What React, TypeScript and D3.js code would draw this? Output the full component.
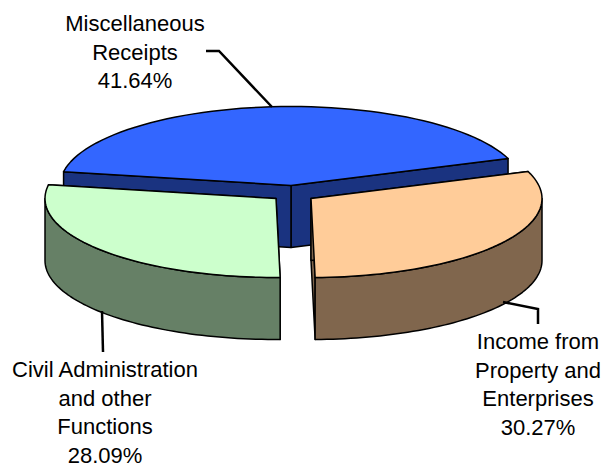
import React from "react";
import * as d3 from "d3";

const categories = ["Income from Property and Enterprises", "Civil Administration and other Functions", "Miscellaneous Receipts"];
const values = [30.27, 28.09, 41.64];
const topColors = ["#FFCC99", "#CCFFCC", "#3366FF"];
const sideColors = ["#80664D", "#668066", "#1A3380"];
const labelLines = [
  ["Income from", "Property and", "Enterprises", "30.27%"],
  ["Civil Administration", "and other", "Functions", "28.09%"],
  ["Miscellaneous", "Receipts", "41.64%"],
];
const centers: [number, number][] = [[311, 198.5], [276, 198.5], [291, 185.5]];
const labelAnchors: [number, number][] = [[538, 349], [105, 377], [135, 31]];
const leaders: [number, number][][] = [
  [[503, 302], [538, 309], [538, 324]],
  [[102, 311], [103, 352]],
  [[272, 107], [219, 51], [206, 51]],
];

const RX = 231;
const RY = 79;
const DEPTH = 62;
const START = (70 * Math.PI) / 180;

export default function App() {
  const arcs = d3.pie<number>().sort(null).startAngle(START).endAngle(START + 2 * Math.PI)(values);
  const line = d3.line<[number, number]>();
  const pt = (c: [number, number], a: number, dy = 0): [number, number] => [
    c[0] + RX * Math.sin(a),
    c[1] - RY * Math.cos(a) + dy,
  ];
  const angles = (a0: number, a1: number) => d3.range(0, 61).map((i) => a0 + ((a1 - a0) * i) / 60);

  const order = [2, 1, 0];
  return (
    <svg width={604} height={466} style={{ position: "absolute", left: 0, top: 0 }}>
      <rect width={604} height={466} fill="#fff" />
      {order.map((i) => {
        const arc = arcs[i];
        const c = centers[i];
        const top = [c, ...angles(arc.startAngle, arc.endAngle).map((a) => pt(c, a))] as [number, number][];
        const a0 = Math.max(arc.startAngle, Math.PI / 2);
        const a1 = Math.min(arc.endAngle, (3 * Math.PI) / 2);
        const front = a1 > a0 ? angles(a0, a1) : [];
        const wall = [...front.map((a) => pt(c, a)), ...front.slice().reverse().map((a) => pt(c, a, DEPTH))] as [number, number][];
        const s = pt(c, arc.startAngle);
        const e = pt(c, arc.endAngle);
        const startFace: [number, number][] = [c, s, [s[0], s[1] + DEPTH], [c[0], c[1] + DEPTH]];
        const endFace: [number, number][] = [c, e, [e[0], e[1] + DEPTH], [c[0], c[1] + DEPTH]];
        const faceStyle = { fill: sideColors[i], stroke: "#000", strokeWidth: 1.5, strokeLinejoin: "round" as const };
        return (
          <g key={categories[i]}>
            <path d={line(endFace) + "Z"} {...faceStyle} />
            <path d={line(startFace) + "Z"} {...faceStyle} />
            {front.length > 0 && <path d={line(wall) + "Z"} {...faceStyle} />}
            <path d={line(top) + "Z"} fill={topColors[i]} stroke="#000" strokeWidth={1.5} strokeLinejoin="round" />
          </g>
        );
      })}
      {leaders.map((l, i) => (
        <path key={i} d={line(l) ?? ""} fill="none" stroke="#000" strokeWidth={2.5} />
      ))}
      {labelLines.map((lines, i) => (
        <text key={i} textAnchor="middle" fontFamily="Liberation Sans, Arial, sans-serif" fontSize={22} fill="#000">
          {lines.map((t, j) => (
            <tspan key={j} x={labelAnchors[i][0]} y={labelAnchors[i][1] + j * 28.7}>{t}</tspan>
          ))}
        </text>
      ))}
    </svg>
  );
}
